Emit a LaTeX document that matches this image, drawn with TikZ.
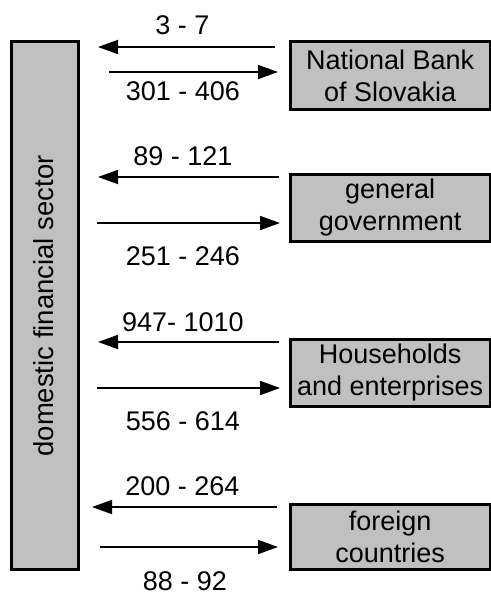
\documentclass[tikz,border=0pt]{standalone}
\usepackage{fontspec}
\setmainfont{Liberation Sans}
\usetikzlibrary{arrows.meta}
\definecolor{boxgray}{HTML}{C0C0C0}
\tikzset{
  sector/.style={draw=black, fill=boxgray, line width=2.8pt, inner sep=0pt, anchor=north west, align=center,
    font=\fontsize{27}{32}\selectfont},
  flow/.style={line width=1.8pt, -{Triangle[length=20pt,width=14pt]}},
  amount/.style={anchor=base, inner sep=0pt, font=\fontsize{27}{32}\selectfont}
}
\begin{document}
\begin{tikzpicture}[x=1pt,y=-1pt]
\useasboundingbox (0,0) rectangle (490,597);
% left box
\node[sector, minimum width=67pt, minimum height=528pt] (dfs) at (10,40) {};
\node[rotate=90, inner sep=0pt, font=\fontsize{27.5}{32}\selectfont] (dfslabel) at (43.5,306) {domestic financial sector};
% right boxes
\node[sector, minimum width=199.5pt, minimum height=68pt] (nbs) at (289,40) {National Bank\\of Slovakia};
\node[sector, minimum width=199.5pt, minimum height=67pt] (gov) at (289,173) {general\\government};
\node[sector, minimum width=199.5pt, minimum height=67pt] (hh) at (289,338) {Households\\and enterprises};
\node[sector, minimum width=199.5pt, minimum height=65pt] (fc) at (289,503) {foreign\\countries};
% arrow end points
\coordinate (a1s) at (275,47);  \coordinate (a1e) at (98,47);
\coordinate (a2s) at (109,72);  \coordinate (a2e) at (278,72);
\coordinate (a3s) at (279,177); \coordinate (a3e) at (98,177);
\coordinate (a4s) at (97,223);  \coordinate (a4e) at (280,223);
\coordinate (a5s) at (279,342); \coordinate (a5e) at (98,342);
\coordinate (a6s) at (97,388);  \coordinate (a6e) at (280,388);
\coordinate (a7s) at (277,507); \coordinate (a7e) at (92,507);
\coordinate (a8s) at (100,547); \coordinate (a8e) at (278,547);
\draw[flow] (a1s) -- (a1e);
\draw[flow] (a2s) -- (a2e);
\draw[flow] (a3s) -- (a3e);
\draw[flow] (a4s) -- (a4e);
\draw[flow] (a5s) -- (a5e);
\draw[flow] (a6s) -- (a6e);
\draw[flow] (a7s) -- (a7e);
\draw[flow] (a8s) -- (a8e);
% labels
\node[amount] (l1) at (182.5,34) {3 - 7};
\node[amount] (l2) at (183,100) {301 - 406};
\node[amount] (l3) at (183,165) {89 - 121};
\node[amount] (l4) at (183,265) {251 - 246};
\node[amount] (l5) at (183,331) {947- 1010};
\node[amount] (l6) at (183,430.5) {556 - 614};
\node[amount] (l7) at (182.5,495.5) {200 - 264};
\node[amount] (l8) at (185,590) {88 - 92};
\end{tikzpicture}
\end{document}
